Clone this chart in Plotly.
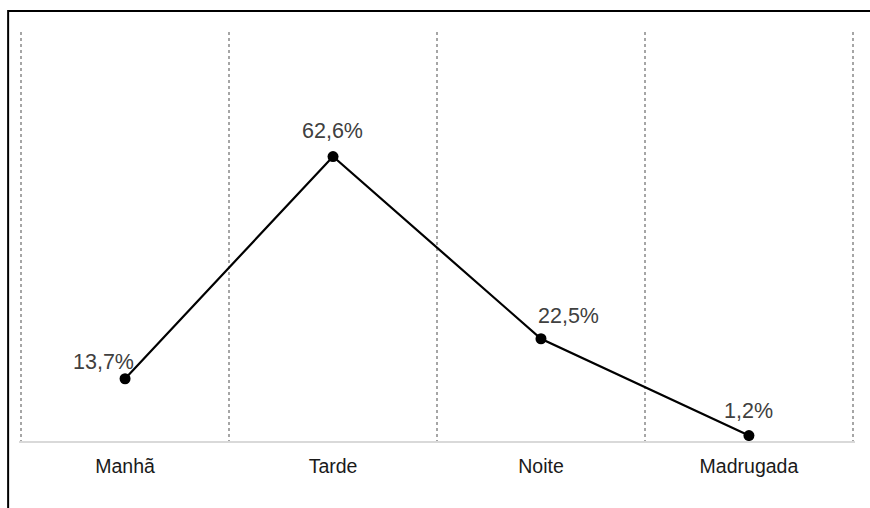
import plotly.graph_objects as go

# Share of occurrences by period of the day (%)
periodos = ["Manhã", "Tarde", "Noite", "Madrugada"]
percentuais = [13.7, 62.6, 22.5, 1.2]
rotulos = ["13,7%", "62,6%", "22,5%", "1,2%"]

# Pixel offsets of each value label relative to its point
deslocamentos = [(-22, 17), (-1, 26), (28, 23), (0, 25)]

# Small padding so the boundary gridlines at both ends stay visible
pad = 0.01

fig = go.Figure()
fig.add_trace(go.Scatter(
    x=periodos,
    y=percentuais,
    mode="lines+markers",
    line=dict(color="#000000", width=2.2),
    marker=dict(color="#000000", size=11),
    hoverinfo="skip",
    showlegend=False,
))

for p, v, r, (dx, dy) in zip(periodos, percentuais, rotulos, deslocamentos):
    fig.add_annotation(
        x=p, y=v, text=r, showarrow=False,
        xshift=dx, yshift=dy,
        font=dict(family="Liberation Sans, Arial, sans-serif", size=21.5, color="#404040"),
    )

# Outer frame of the chart
fig.add_shape(
    type="rect", xref="paper", yref="paper",
    x0=-0.013, x1=1.2, y0=-0.3, y1=1.0513,
    line=dict(color="#000000", width=2), fillcolor="rgba(0,0,0,0)",
    layer="below",
)

fig.update_layout(
    width=870, height=508,
    margin=dict(l=19, r=15, t=32, b=67),
    paper_bgcolor="#ffffff", plot_bgcolor="#ffffff",
    font=dict(family="Liberation Sans, Arial, sans-serif"),
    xaxis=dict(
        type="category",
        range=[-0.5 - pad, len(periodos) - 0.5 + pad],
        tickson="boundaries",
        showgrid=True, gridcolor="#a6a6a6", griddash="dot", gridwidth=1.5,
        showline=True, linecolor="#d9d9d9", linewidth=1.5,
        ticks="", ticklabelstandoff=7,
        tickfont=dict(size=19.5, color="#1a1a1a"),
        zeroline=False,
        fixedrange=True,
    ),
    yaxis=dict(
        range=[0, 90],
        showgrid=False, zeroline=False, showline=False,
        showticklabels=False, ticks="",
        fixedrange=True,
    ),
)

fig.write_html("out.html")
